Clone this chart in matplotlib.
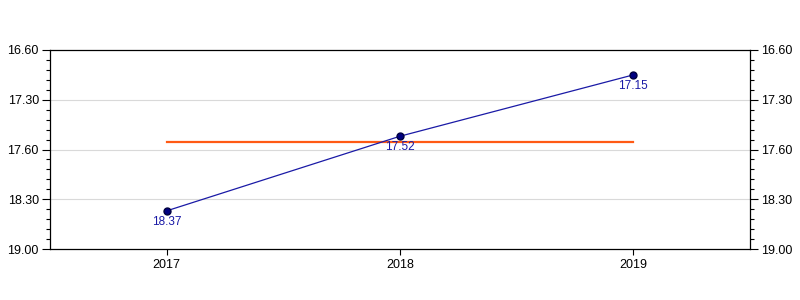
import matplotlib.pyplot as plt
from matplotlib.ticker import FixedLocator, MultipleLocator

plt.rcParams['font.family'] = ['Liberation Sans', 'DejaVu Sans']

# Data (values shown as min.sec style labels)
years = ['2017', '2018', '2019']
value_labels = ['18.37', '17.52', '17.15']
avg_value = 17.925  # orange reference line, axis units

tick_values = [17.0, 17.5, 18.0, 18.5, 19.0]
tick_labels = ['16.60', '17.30', '17.60', '18.30', '19.00']


def to_axis(s):
    whole, frac = s.split('.')
    return int(whole) + int(frac) / 60


values = [to_axis(v) for v in value_labels]
x = list(range(len(years)))

fig = plt.figure(figsize=(8, 3), dpi=100)
ax = fig.add_axes([50 / 800, 51 / 300, 700 / 800, 199 / 300])

ax.plot(x, values, color='#1a1aa6', linewidth=0.9, marker='o', markersize=5,
        markerfacecolor='#000080', markeredgecolor='#000040', zorder=3)
ax.plot([x[0], x[-1]], [avg_value, avg_value], color='#ff5a14', linewidth=1.6, zorder=2)

for xi, yi, lab in zip(x, values, value_labels):
    ax.text(xi, yi + 0.05, lab, ha='center', va='top', fontsize=8.5, color='#1a1aa6')

ax.set_xlim(-0.5, 2.5)
ax.set_ylim(19.0, 17.0)
ax.set_xticks(x)
ax.set_xticklabels(years, fontsize=9)

ax.yaxis.set_major_locator(FixedLocator(tick_values))
ax.set_yticklabels(tick_labels, fontsize=9)
ax.yaxis.set_minor_locator(MultipleLocator(0.1))
ax.tick_params(axis='y', which='both', left=True, right=True, labelleft=True, labelright=True)
ax.tick_params(axis='y', which='major', length=6, width=0.8, pad=2)
ax.tick_params(axis='y', which='minor', length=3, width=0.8)
ax.tick_params(axis='x', length=4, width=0.8, pad=3)

for yv in tick_values[1:-1]:
    ax.axhline(yv, color='#d9d9d9', linewidth=0.8, zorder=1)

for sp in ax.spines.values():
    sp.set_linewidth(0.9)

fig.savefig('out.png', dpi=100)
